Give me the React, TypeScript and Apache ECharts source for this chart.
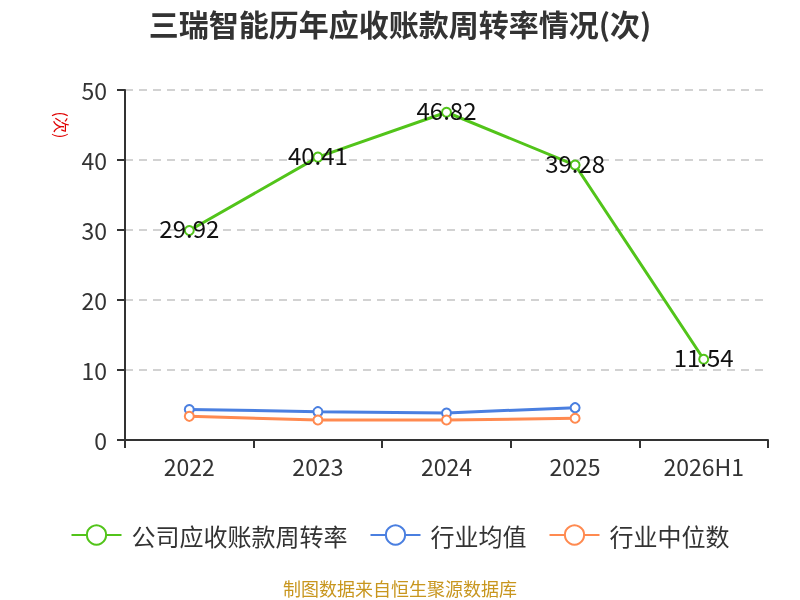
import React, { useEffect, useRef } from "react";
import * as echarts from "echarts";

const categories = ["2022", "2023", "2024", "2025", "2026H1"];
const companyValues = [29.92, 40.41, 46.82, 39.28, 11.54];
const industryAvg = [4.36, 4.05, 3.86, 4.62, null];
const industryMedian = [3.38, 2.86, 2.86, 3.1, null];
const seriesNames = ["公司应收账款周转率", "行业均值", "行业中位数"];
const colors = ["#52c41a", "#4a7fe0", "#ff8a50"];

export default function App() {
  const ref = useRef<HTMLDivElement>(null);
  useEffect(() => {
    if (!ref.current) return;
    const chart = echarts.init(ref.current, null, { renderer: "svg" });
    const font = "'Noto Sans CJK SC', 'Noto Sans', sans-serif";
    const mk = (name: string, data: any[], color: string, label: boolean) => ({
      name,
      type: "line",
      data,
      symbol: "circle",
      symbolSize: 9,
      showSymbol: true,
      lineStyle: { color, width: 3 },
      itemStyle: { color: "#fff", borderColor: color, borderWidth: 2 },
      label: label
        ? {
            show: true,
            position: "inside",
            offset: [0, -3],
            color: "#111",
            fontSize: 24,
            fontFamily: font,
          }
        : { show: false },
      z: label ? 3 : 2,
    });
    chart.setOption({
      animation: false,
      color: colors,
      textStyle: { fontFamily: font },
      title: {
        text: "三瑞智能历年应收账款周转率情况(次)",
        left: "center",
        top: 8,
        padding: 0,
        textStyle: { fontSize: 30, fontWeight: "bold", color: "#333", fontFamily: font },
      },
      legend: {
        top: 523,
        left: "center",
        padding: 0,
        itemWidth: 50,
        itemHeight: 24,
        itemGap: 22,
        textStyle: { fontSize: 24, color: "#333", fontFamily: font, padding: [0, 0, 0, 5] },
        data: seriesNames,
      },
      grid: { left: 125, right: 32, top: 90, bottom: 160 },
      xAxis: {
        type: "category",
        data: categories,
        boundaryGap: true,
        axisLine: { lineStyle: { color: "#333", width: 2 } },
        axisTick: { show: true, length: 8, lineStyle: { color: "#333", width: 2 } },
        axisLabel: { fontSize: 23, color: "#333", margin: 14, fontFamily: font },
      },
      yAxis: {
        type: "value",
        min: 0,
        max: 50,
        interval: 10,
        axisLine: { show: true, lineStyle: { color: "#333", width: 2 } },
        axisTick: { show: true, length: 8, lineStyle: { color: "#333", width: 2 } },
        axisLabel: { fontSize: 23, color: "#333", margin: 18, fontFamily: font },
        splitLine: { lineStyle: { color: "#c4c4c4", type: [8, 6], width: 1.5 } },
      },
      graphic: [
        {
          type: "text",
          x: 62,
          y: 125,
          rotation: -Math.PI / 2,
          style: {
            text: "(次)",
            fill: "#e00000",
            fontSize: 16,
            fontFamily: font,
            align: "center",
            verticalAlign: "middle",
          },
        },
        {
          type: "text",
          left: "center",
          top: 579,
          style: {
            text: "制图数据来自恒生聚源数据库",
            fill: "#c8961e",
            fontSize: 18,
            fontFamily: font,
          },
        },
      ],
      series: [
        mk(seriesNames[0], companyValues, colors[0], true),
        mk(seriesNames[1], industryAvg, colors[1], false),
        mk(seriesNames[2], industryMedian, colors[2], false),
      ],
    });
    return () => chart.dispose();
  }, []);
  return (
    <div
      ref={ref}
      style={{ position: "fixed", left: 0, top: 0, width: 800, height: 600 }}
    />
  );
}
